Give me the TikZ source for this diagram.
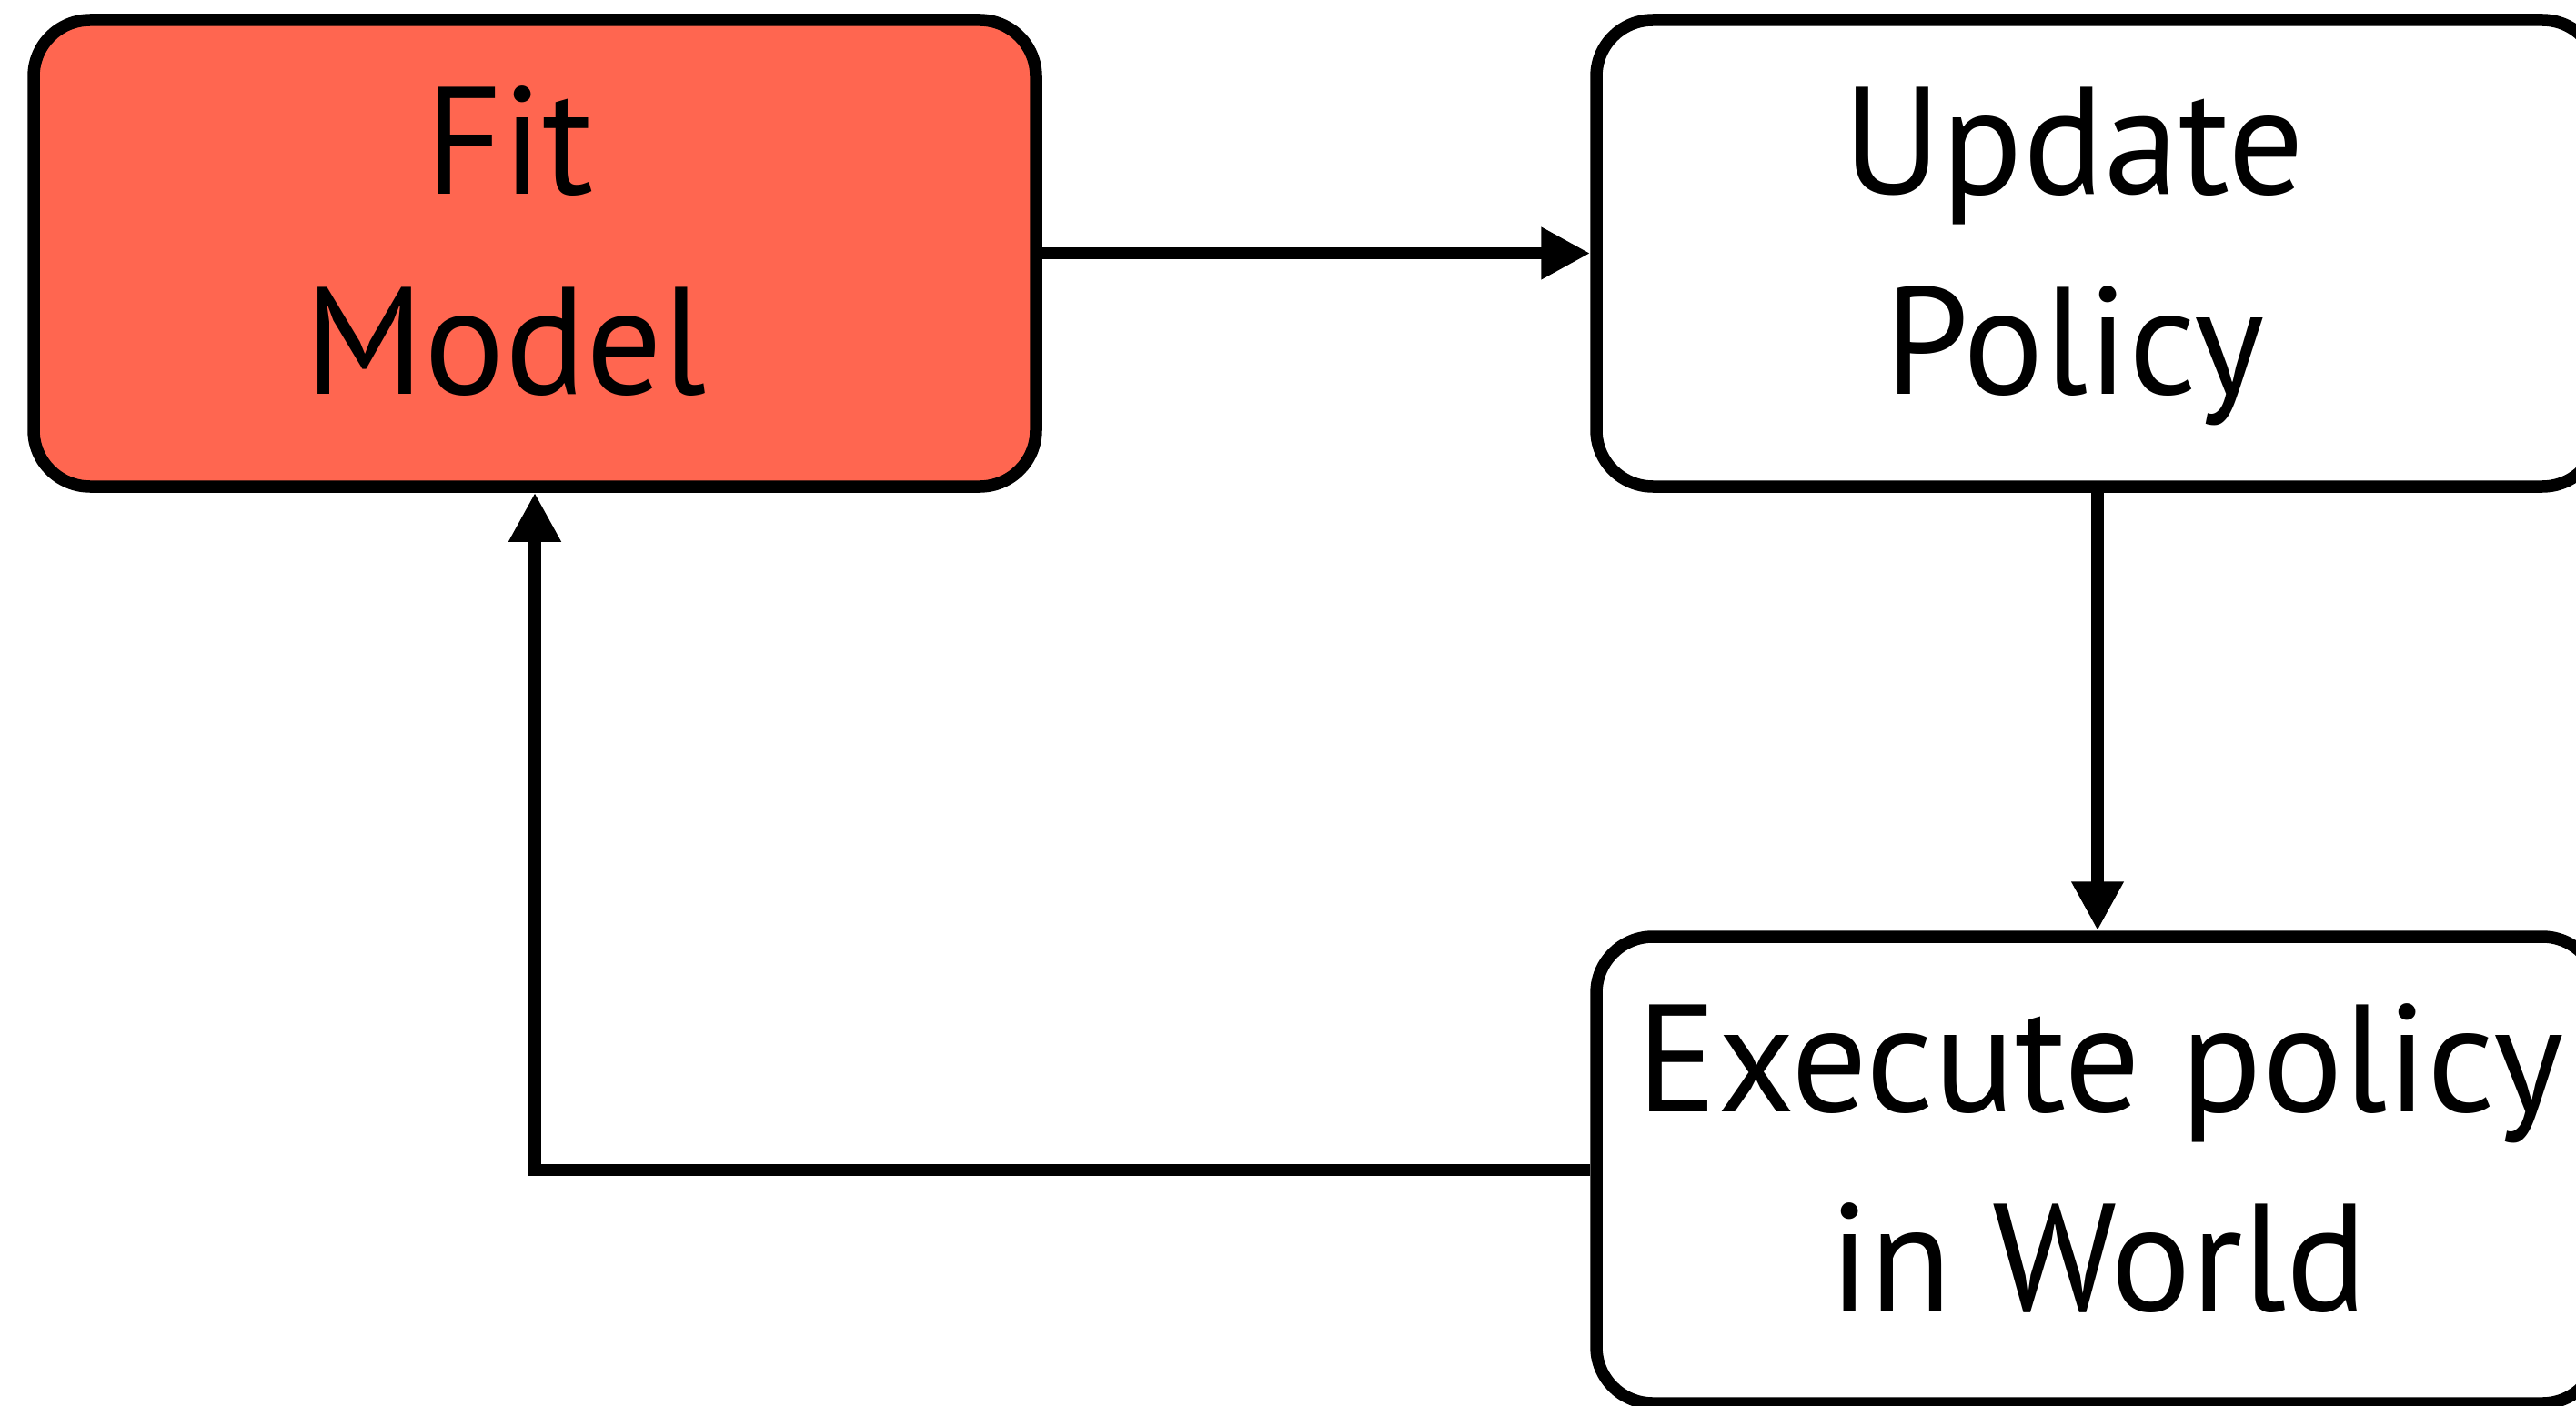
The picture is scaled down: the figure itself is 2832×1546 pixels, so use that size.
\documentclass[tikz,border=0pt]{standalone}
\usepackage{fontspec}
\setmainfont[FakeStretch=0.985]{PT Sans}
\usetikzlibrary{arrows.meta}
\definecolor{fitred}{RGB}{255,102,80}
\begin{document}
\begin{tikzpicture}[x=0.5pt,y=-0.5pt,
  box/.style={draw=black, line width=6.75pt, rounded corners=31pt,
    minimum width=551pt, minimum height=256.5pt, inner sep=0pt},
  lbl/.style={anchor=base, inner sep=0pt, font=\fontsize{84pt}{100pt}\selectfont},
  link/.style={line width=6.75pt, -{Triangle[length=27pt,width=27pt]}}]
\useasboundingbox (0,0) rectangle (2832,1546);
\clip (0,0) rectangle (2832,1546);
% the three stages of the loop
\node[box, fill=fitred] (fit) at (588,278.5) {};
\node[box] (update) at (2306,278.5) {};
\node[box] (execute) at (2306,1286.5) {};
% stage labels
\node[lbl] (fitA) at (560,214) {Fit};
\node[lbl] (fitB) at (556,433) {Model};
\node[lbl] (updA) at (2280,214) {Update};
\node[lbl] (updB) at (2281,433) {Policy};
\node[lbl] (exeA) at (2309,1222) {Execute policy};
\node[lbl] (exeB) at (2307,1441) {in World};
% connectors
\draw[link] (fit) -- (update);
\draw[link] (update) -- (execute);
\draw[link] (execute.west) -| (fit.south);
\end{tikzpicture}
\end{document}
